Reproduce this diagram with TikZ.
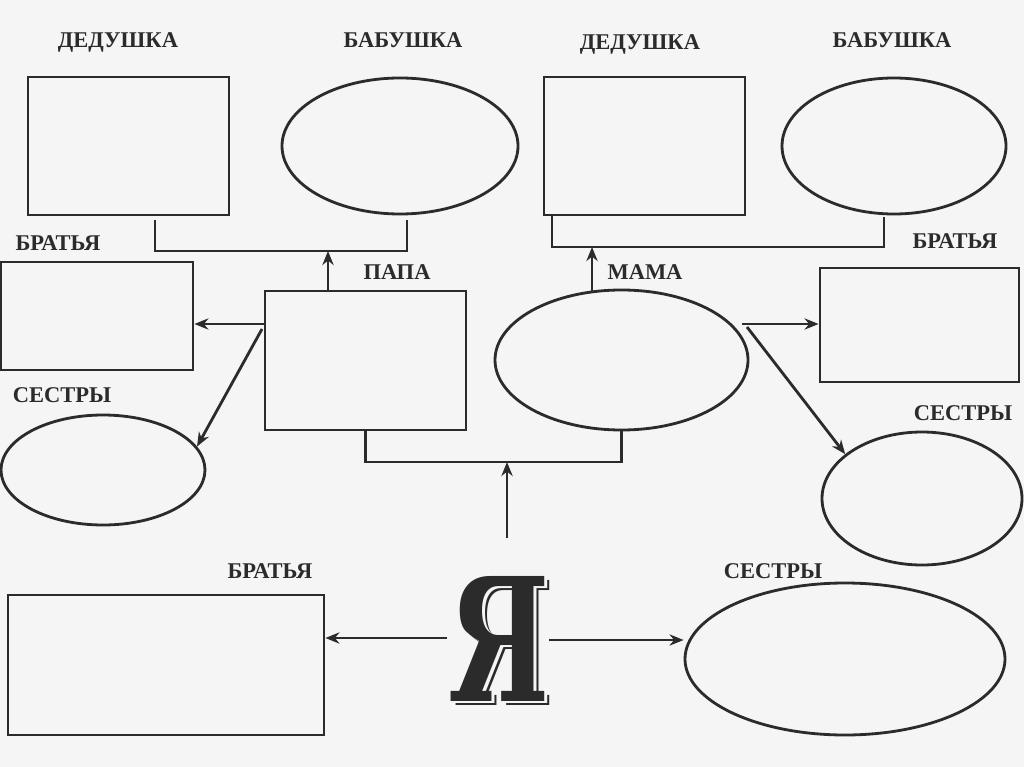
\documentclass[tikz,border=0pt]{standalone}
\usepackage{fontspec}
\setmainfont{Liberation Serif}
\newfontfamily\yafamily{DejaVu Serif}
\usetikzlibrary{shapes.geometric,arrows.meta,calc}
\definecolor{ink}{HTML}{2B2B2B}
\definecolor{paper}{HTML}{F5F5F5}
\newcommand{\uu}{0.025cm}
\begin{document}
\begin{tikzpicture}[x=0.025cm,y=-0.025cm,
  box/.style={draw=ink,line width=2pt,rectangle,inner sep=0pt},
  oval/.style={draw=ink,line width=2pt,ellipse,inner sep=0pt},
  lbl/.style={font=\bfseries\fontsize{16}{18}\selectfont,text=ink,inner sep=0pt,text height=10.6pt,text depth=0pt},
  link/.style={draw=ink,line width=2pt},
  arr/.style={draw=ink,line width=2pt,-{Stealth[length=10pt,width=8pt]}},
  yaf/.style={font=\yafamily\bfseries\fontsize{122}{122}\selectfont,inner sep=0pt,xscale=0.67,text height=88.5pt,text depth=0pt}]
\fill[paper] (0,0) rectangle (1024,767);
\useasboundingbox (0,0) rectangle (1024,767);
% labels
\node[lbl] (l1) at (118,40) {ДЕДУШКА};
\node[lbl] (l2) at (403,40) {БАБУШКА};
\node[lbl] (l3) at (640,42) {ДЕДУШКА};
\node[lbl] (l4) at (892,40) {БАБУШКА};
\node[lbl] (l5) at (58,243) {БРАТЬЯ};
\node[lbl] (l6) at (397,272) {ПАПА};
\node[lbl] (l7) at (645,272) {МАМА};
\node[lbl] (l8) at (955,241) {БРАТЬЯ};
\node[lbl] (l9) at (62,395) {СЕСТРЫ};
\node[lbl] (l10) at (963,413) {СЕСТРЫ};
\node[lbl] (l11) at (270,571) {БРАТЬЯ};
\node[lbl] (l12) at (773,571) {СЕСТРЫ};
% shapes
\node[box,minimum width=201*\uu,minimum height=138*\uu] (dl) at (128.5,146) {};
\node[oval,minimum width=236*\uu,minimum height=136*\uu] (bl) at (400,146) {};
\node[box,minimum width=201*\uu,minimum height=138*\uu] (dr) at (644.5,146) {};
\node[oval,minimum width=224*\uu,minimum height=136*\uu] (br) at (894,146) {};
\node[box,minimum width=201*\uu,minimum height=139*\uu] (papa) at (365.5,360.5) {};
\node[oval,minimum width=253*\uu,minimum height=140*\uu] (mama) at (621.5,360) {};
\node[box,minimum width=192*\uu,minimum height=108*\uu] (brL) at (97,316) {};
\node[oval,minimum width=204*\uu,minimum height=110*\uu] (sisL) at (103,470) {};
\node[box,minimum width=199*\uu,minimum height=114*\uu] (brR) at (919.5,325) {};
\node[oval,minimum width=200*\uu,minimum height=133*\uu] (sisR) at (922,498.5) {};
\node[box,minimum width=316*\uu,minimum height=140*\uu] (brB) at (166,665) {};
\node[oval,minimum width=320*\uu,minimum height=152*\uu] (sisB) at (845,659) {};
% the big letter with shadow outline
\node[yaf,text=ink] (yas) at (504,643.5) {Я};
\node[yaf,text=paper] (yaw) at (502,641.5) {Я};
\node[yaf,text=ink] (ya) at (499.5,639.5) {Я};
% top left bracket
\coordinate (b1a) at (155,220);
\coordinate (b1b) at (155,251);
\coordinate (b1c) at (407,251);
\coordinate (b1d) at (407,220);
\coordinate (b1t) at (328,251);
\draw[link] (b1a) -- (b1b) -- (b1c) -- (b1d);
\draw[arr] (papa.north -| b1t) -- (b1t);
% top right bracket
\coordinate (b2a) at (552,215);
\coordinate (b2b) at (552,247);
\coordinate (b2c) at (884,247);
\coordinate (b2d) at (884,217);
\coordinate (b2t) at (592,247);
\coordinate (m2) at (592,291);
\draw[link] (b2a) -- (b2b) -- (b2c) -- (b2d);
\draw[arr] (m2) -- (b2t);
% bottom bracket
\coordinate (b3) at (507,462);
\coordinate (yaT) at (507,538);
\draw[link] (papa.south) |- (b3) -| (mama.south);
\draw[arr] (yaT) -- (b3);
% papa to brothers / sisters
\coordinate (yL) at (0,324);
\draw[arr] (papa.west |- yL) -- (brL.east |- yL);
\coordinate (dL) at (262,329);
\draw[arr] (dL) -- (sisL.14);
% mama to brothers / sisters
\coordinate (rS) at (742,324);
\coordinate (rD) at (747,327);
\draw[arr] (rS) -- (brR.west |- rS);
\draw[arr] (rD) -- (sisR.150);
% me to brothers / sisters
\coordinate (yaL) at (447,638);
\coordinate (yaR) at (549,640);
\draw[arr] (yaL) -- (brB.east |- yaL);
\draw[arr] (yaR) -- (yaR -| sisB.west);
\end{tikzpicture}
\end{document}
